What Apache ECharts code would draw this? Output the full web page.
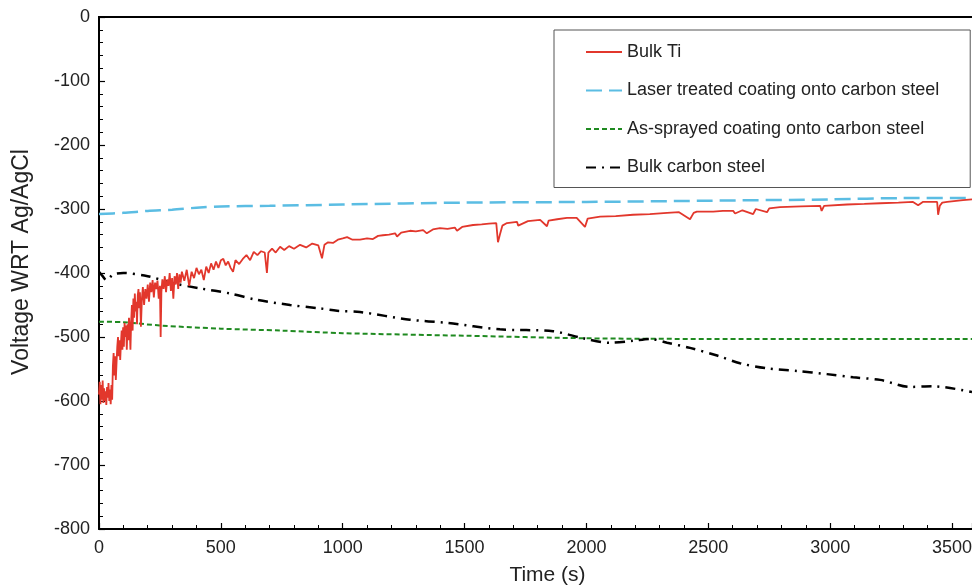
<!DOCTYPE html>
<html><head><meta charset="utf-8">
<script src="https://cdn.jsdelivr.net/npm/echarts@6/dist/echarts.min.js"></script>
<style>html,body{margin:0;padding:0;background:#fff}#c{width:972px;height:585px}</style>
</head><body><div id="c"></div>
<script>
var seriesNames = ['Bulk Ti','Laser treated coating onto carbon steel','As-sprayed coating onto carbon steel','Bulk carbon steel'];
var xTicks = [0,500,1000,1500,2000,2500,3000,3500];
var yTicks = [0,-100,-200,-300,-400,-500,-600,-700,-800];

var bulkTiTime = [0,3,6,9,12,15,18,21,24,27,30,33,36,39,42,45,48,51,54,
57,60,63,66,69,72,75,78,81,84,87,90,93,96,99,102,105,108,111,114,117,120,123,
126,129,132,135,138,141,144,147,150,153,156,159,162,165,168,172,176,180,185,190,195,200,205,210,215,220,225,230,235,240,245,250,253,256,260,265,270,275,280,285,290,295,300,305,310,315,320,325,330,335,340,350,360,370,380,390,400,410,420,430,440,450,460,470,480,490,500,510,520,530,540,550,560,575,590,605,620,635,650,665,680,689,695,710,725,743,760,780,800,825,850,875,900,915,925,940,960,980,1000,1018,1040,1071,1100,1124,1145,1165,1190,1215,1223,1240,1276,1300,1330,1345,1370,1399,1430,1460,1469,1490,1535,1570,1600,1630,1637,1645,1655,1674,1715,1720,1760,1810,1838,1845,1880,1920,1960,1994,2005,2056,2120,2191,2260,2331,2380,2425,2440,2453,2520,2560,2602,2610,2640,2684,2695,2741,2750,2794,2880,2959,2965,2975,3069,3140,3205,3280,3340,3361,3380,3439,3443,3450,3460,3480,3545,3582];
var bulkTiVolt = [-590,-570,-605,-575,-598,-568,-603,-580,-600,-585,-606,-578,-595,-572,-600,-582,-605,-575,-598,
-545,-525,-560,-530,-567,-540,-515,-500,-530,-505,-536,-510,-490,-520,-485,-515,-478,-500,-482,-520,-480,-505,-470,
-485,-520,-475,-450,-490,-440,-470,-432,-460,-445,-480,-435,-425,-455,-430,-484,-440,-422,-450,-425,-440,-418,-445,-415,-430,-411,-438,-415,-425,-412,-440,-420,-500,-430,-410,-425,-405,-430,-410,-420,-400,-428,-408,-440,-405,-418,-400,-425,-402,-415,-398,-412,-395,-420,-398,-408,-392,-402,-395,-411,-390,-400,-385,-395,-382,-392,-380,-378,-388,-382,-392,-398,-380,-386,-378,-372,-380,-367,-372,-366,-368,-400,-368,-362,-368,-359,-364,-358,-362,-356,-360,-354,-357,-377,-356,-352,-353,-348,-346,-344,-348,-348,-346,-347,-342,-341,-340,-338,-343,-337,-334,-335,-333,-338,-332,-330,-331,-329,-334,-328,-325,-324,-323,-322,-352,-340,-326,-322,-320,-326,-319,-317,-327,-318,-316,-314,-314,-328,-315,-312,-311,-309,-308,-306,-305,-316,-306,-304,-304,-303,-303,-307,-302,-308,-300,-305,-299,-297,-296,-295,-303,-295,-293,-292,-291,-290,-289,-294,-289,-289,-309,-295,-290,-289,-286,-285];

var laserTime = [0,100,200,300,400,500,700,1000,1500,2000,2500,3000,3300,3582];
var laserVolt = [-308,-306,-303,-301,-298,-296,-295,-293,-290,-289,-287,-285,-283,-283];

var sprayTime = [0,100,250,500,750,1000,1500,2000,2500,3000,3582];
var sprayVolt = [-476,-477,-482,-487,-490,-494,-498,-502,-503,-503,-503];

var steelTime = [0,15,30,60,100,200,304,415,538,648,784,900,977,1071,1276,1428,1645,1863,1987,2097,2191,2261,2331,2425,2536,2630,2741,2864,2987,3094,3205,3328,3422,3582];
var steelVolt = [-398,-405,-411,-402,-400,-405,-416,-424,-432,-442,-450,-455,-459,-461,-473,-478,-488,-491,-502,-509,-506,-503,-509,-517,-529,-541,-549,-553,-558,-563,-567,-578,-577,-586];

function pairs(t, v){ return t.map(function(x,i){ return [x, v[i]]; }); }

var font = 'Liberation Sans, Arial, Helvetica, sans-serif';
var chart = echarts.init(document.getElementById('c'));
chart.setOption({
  animation: false,
  backgroundColor: '#fff',
  grid: {left: 99, top: 17, right: 0, bottom: 56, containLabel: false, outerBoundsMode: 'none'},
  graphic: [{type: 'line', shape: {x1: 98, y1: 17, x2: 972, y2: 17}, style: {stroke: '#000', lineWidth: 2}, z: 10}],
  legend: {
    orient: 'vertical', left: 554, top: 30,
    data: seriesNames,
    itemWidth: 36, itemHeight: 14, itemGap: 20.5,
    padding: [13, 31, 11, 31],
    borderColor: '#555', borderWidth: 1, backgroundColor: '#fff',
    itemStyle: {opacity: 0},
    textStyle: {fontFamily: font, fontSize: 18, color: '#222'}
  },
  xAxis: {
    type: 'value', min: 0, max: 3582, interval: 500,
    name: 'Time (s)', nameLocation: 'middle', nameGap: 36,
    nameTextStyle: {fontFamily: font, fontSize: 21, color: '#222', padding: [0,0,0,24]},
    axisLine: {onZero: false, lineStyle: {color: '#000', width: 2}},
    axisTick: {inside: true, length: 6, lineStyle: {color: '#000', width: 1.2}},
    minorTick: {show: true, splitNumber: 5, length: 4, lineStyle: {color: '#000', width: 1}},
    splitLine: {show: false},
    axisLabel: {fontFamily: font, fontSize: 18, color: '#222', margin: 10, showMaxLabel: false,
      formatter: function(v){ return xTicks.indexOf(v) >= 0 ? String(v) : ''; }}
  },
  yAxis: {
    type: 'value', min: -800, max: 0, interval: 100,
    name: 'Voltage WRT Ag/AgCl', nameLocation: 'middle', nameGap: 66,
    nameTextStyle: {fontFamily: font, fontSize: 23, color: '#222', padding: [0,0,0,22]},
    axisLine: {show: true, onZero: false, lineStyle: {color: '#000', width: 2}},
    axisTick: {inside: true, length: 6, lineStyle: {color: '#000', width: 1.2}},
    minorTick: {show: true, splitNumber: 5, length: 4, lineStyle: {color: '#000', width: 1}},
    splitLine: {show: false},
    axisLabel: {fontFamily: font, fontSize: 18, color: '#222', margin: 9,
      formatter: function(v){ return yTicks.indexOf(v) >= 0 ? String(v) : ''; }}
  },
  series: [
    {name: seriesNames[0], type: 'line', data: pairs(bulkTiTime, bulkTiVolt), showSymbol: false, symbol: 'none',
     lineStyle: {color: '#e2372c', width: 1.8}, itemStyle: {color: '#e2372c'}, z: 5},
    {name: seriesNames[1], type: 'line', data: pairs(laserTime, laserVolt), showSymbol: false, symbol: 'none', smooth: 0.3,
     lineStyle: {color: '#5bbde3', width: 2.5, type: [16, 7]}, itemStyle: {color: '#5bbde3'}},
    {name: seriesNames[2], type: 'line', data: pairs(sprayTime, sprayVolt), showSymbol: false, symbol: 'none', smooth: 0.3,
     lineStyle: {color: '#1f8a20', width: 2, type: [5, 3]}, itemStyle: {color: '#1f8a20'}},
    {name: seriesNames[3], type: 'line', data: pairs(steelTime, steelVolt), showSymbol: false, symbol: 'none', smooth: 0.3,
     lineStyle: {color: '#000', width: 2.5, type: [10, 6, 2, 6]}, itemStyle: {color: '#000'}}
  ]
});
</script></body></html>
